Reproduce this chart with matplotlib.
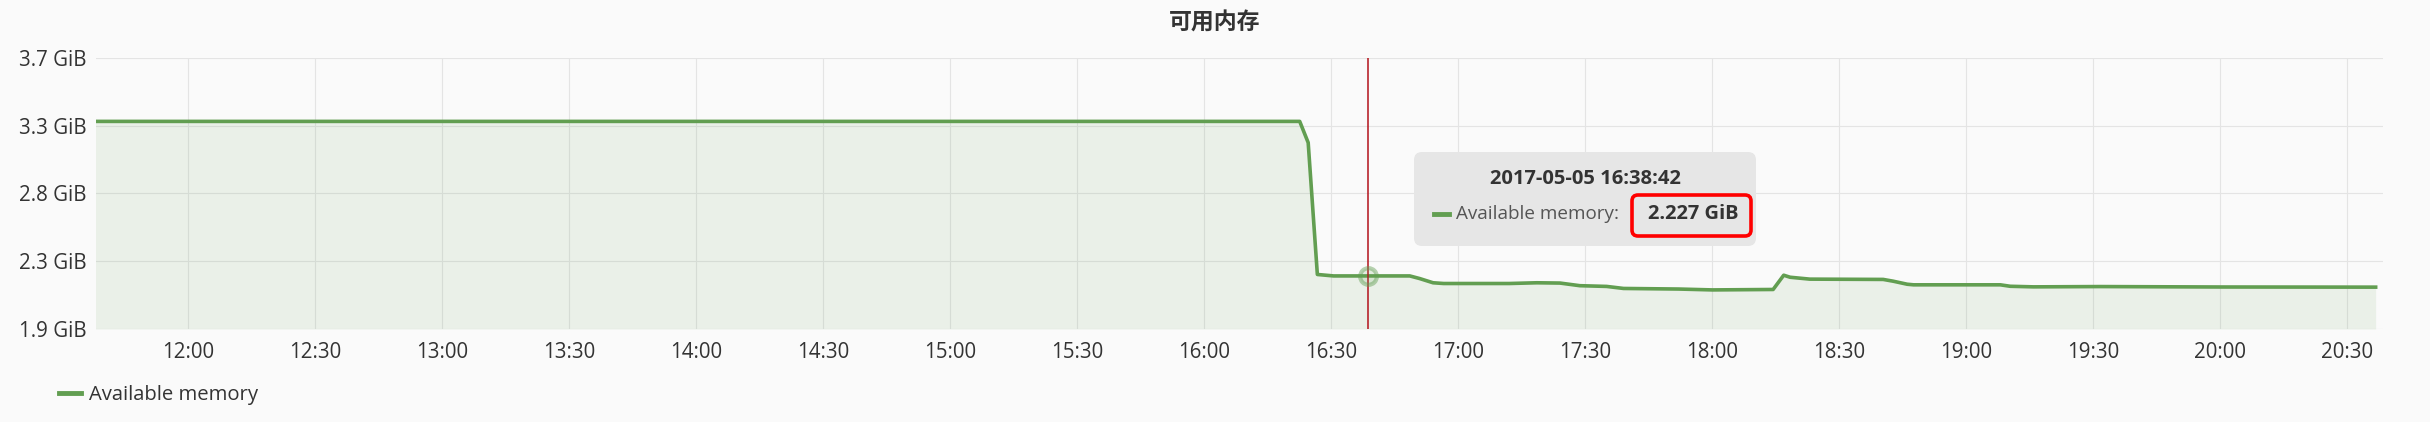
import numpy as np
import pandas as pd
import matplotlib
matplotlib.use("Agg")
import matplotlib.pyplot as plt
import matplotlib.dates as mdates
from matplotlib.patches import FancyBboxPatch
from matplotlib.lines import Line2D

# Data, values in GiB
day = "2017-05-05"
times = ["11:38:00", "16:22:30", "16:24:30", "16:26:40", "16:30:30", "16:48:30",
         "16:50:50", "16:54:00", "16:56:30", "17:12:00", "17:18:30", "17:24:00",
         "17:28:40", "17:35:00", "17:39:00", "17:52:00", "18:00:00", "18:14:20",
         "18:16:50", "18:18:20", "18:23:00", "18:40:20", "18:42:40", "18:46:00",
         "18:47:30", "19:08:00", "19:10:20", "19:15:50", "19:31:40", "20:00:00",
         "20:36:40"]
avail = [3.288, 3.288, 3.142, 2.237, 2.227, 2.227,
         2.209, 2.180, 2.175, 2.175, 2.180, 2.178,
         2.160, 2.155, 2.141, 2.137, 2.131, 2.134,
         2.232, 2.218, 2.205, 2.203, 2.191, 2.170,
         2.166, 2.166, 2.156, 2.152, 2.154, 2.151,
         2.150]

# y ticks: 2..4 GB expressed in GiB
ytick_bytes = [2e9, 2.5e9, 3e9, 3.5e9, 4e9]
ytick_vals = [b / 2**30 for b in ytick_bytes]
ytick_labels = ["1.9 GiB", "2.3 GiB", "2.8 GiB", "3.3 GiB", "3.7 GiB"]

hover_time = "16:38:42"
hover_value = 2.227
series_name = "Available memory"
title = "可用内存"

t = pd.to_datetime([f"{day} {s}" for s in times])
t_hover = pd.Timestamp(f"{day} {hover_time}")

W, H = 2430, 422
green = "#629e51"
txt = "#333333"
plt.rcParams["font.family"] = ["Open Sans", "DejaVu Sans"]

fig = plt.figure(figsize=(W / 100, H / 100), dpi=100, facecolor="#fafafa")
ax = fig.add_axes([96 / W, 1 - 329 / H, (2383 - 96) / W, (329 - 57.7) / H])
ax.set_facecolor("#fafafa")

ax.fill_between(t, avail, ytick_vals[0], color=green, alpha=0.1, lw=0)
ax.plot(t, avail, color=green, lw=2.6, solid_joinstyle="round")

ax.set_xlim(pd.Timestamp(f"{day} 11:38:09"), pd.Timestamp(f"{day} 20:38:24"))
ax.set_ylim(ytick_vals[0], ytick_vals[-1])
ax.set_yticks(ytick_vals)
ax.set_yticklabels(ytick_labels)
ax.xaxis.set_major_locator(mdates.MinuteLocator(byminute=[0, 30]))
ax.xaxis.set_major_formatter(mdates.DateFormatter("%H:%M"))
ax.tick_params(length=0, labelsize=14.8, colors=txt)
ax.tick_params(axis="x", pad=9)
ax.tick_params(axis="y", pad=7)
ax.grid(True, color="#e4e4e4", lw=0.8)
ax.set_axisbelow(True)
for s in ax.spines.values():
    s.set_visible(False)

# hover marker
ax.axvline(t_hover, color="#b3121b", lw=1.1, zorder=4)
ax.plot([t_hover], [hover_value], "o", ms=12, mfc=(0.38, 0.62, 0.32, 0.15),
        mec=(0.38, 0.62, 0.32, 0.45), mew=3, zorder=5)

fig.suptitle(title, x=0.5, y=1 - 23.5 / H, va="center", fontsize=16.5,
             fontweight="bold", color=txt,
             family=["Noto Sans CJK SC", "DejaVu Sans"])

# legend
fig.legend([Line2D([], [], color=green, lw=3.5)], [series_name],
           loc="center left", bbox_to_anchor=(59 / W, 1 - 395 / H),
           frameon=False, fontsize=14.6, handlelength=1.1, handletextpad=0.4,
           borderpad=0, borderaxespad=0, labelcolor=txt)

# tooltip (pixel positions from top-left, drawn in inches)
tr = fig.dpi_scale_trans
def px(x, y):
    return x / 100, (H - y) / 100

x0, y0 = px(1414, 246)
box = FancyBboxPatch((x0, y0), (1756 - 1414) / 100, (246 - 152) / 100,
                     boxstyle="round,pad=0,rounding_size=0.08",
                     fc="#e6e6e6", ec="none", transform=tr, zorder=10)
fig.add_artist(box)
fig.text(*px(1585, 179), f"{day} {hover_time}", transform=tr, ha="center",
         va="center", fontsize=14.5, fontweight="bold", color=txt, zorder=11)
fig.add_artist(Line2D([1434 / 100, 1449 / 100], [(H - 214) / 100] * 2,
                      color=green, lw=3.5, transform=tr, zorder=11))
fig.text(*px(1456, 214), f"{series_name}:", transform=tr, ha="left",
         va="center", fontsize=13.6, color="#555555", zorder=11)
fig.text(*px(1693, 214), f"{hover_value} GiB", transform=tr, ha="center",
         va="center", fontsize=14.5, fontweight="bold", color=txt, zorder=11)
rx, ry = px(1632, 236)
hl = FancyBboxPatch((rx, ry), (1751 - 1632) / 100, (236 - 195) / 100,
                    boxstyle="round,pad=0,rounding_size=0.06",
                    fc="none", ec="#ff0000", lw=2.6, transform=tr, zorder=12)
fig.add_artist(hl)

fig.savefig("out.png", dpi=100, facecolor=fig.get_facecolor())
